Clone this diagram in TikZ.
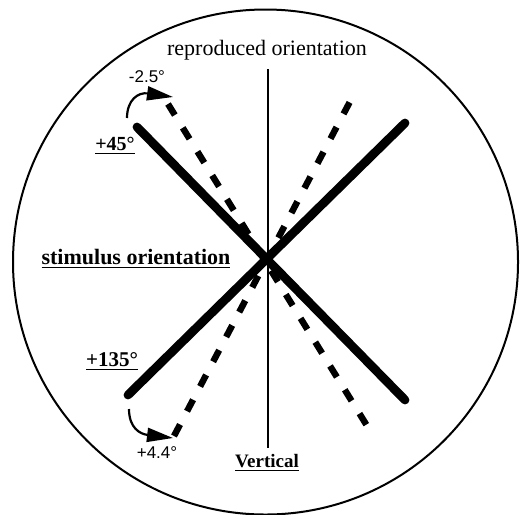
\documentclass[tikz,border=0pt]{standalone}
\usepackage{fontspec}
\setmainfont{Liberation Serif}
\newfontfamily\arialfont{Liberation Sans}
\usetikzlibrary{arrows.meta}

\begin{document}
\begin{tikzpicture}[x=0.5pt, y=-0.5pt,
  stimline/.style={line width=4.4pt, line cap=round},
  reproline/.style={line width=3.2pt, dash pattern=on 6.5pt off 7.5pt},
  turnarrow/.style={line width=1.1pt, -{Triangle[length=13pt, width=7pt]}},
  every node/.style={inner sep=1pt}]
  \useasboundingbox (0,0) rectangle (528,514);
  % frame
  \draw[line width=1pt] (265.5,262) circle[radius=126.25pt];
  % vertical reference
  \coordinate (vtop) at (268,69);
  \coordinate (vbot) at (268,448);
  \draw[line width=0.8pt] (vtop) -- (vbot);
  % stimulus orientations
  \coordinate (s45a) at (137,127);
  \coordinate (s45b) at (405,400);
  \coordinate (s135a) at (128,395);
  \coordinate (s135b) at (405,123);
  \draw[stimline] (s45a) -- (s45b);
  \draw[stimline] (s135a) -- (s135b);
  % reproduced orientations
  \coordinate (r45a) at (168,104);
  \coordinate (r45b) at (369,429);
  \coordinate (r135a) at (174,436);
  \coordinate (r135b) at (354,94);
  \draw[reproline] (r45a) -- (r45b);
  \draw[reproline] (r135a) -- (r135b);
  % errors
  \coordinate (e45a) at (127,118);
  \coordinate (e45b) at (173,97);
  \coordinate (e135a) at (129,409);
  \coordinate (e135b) at (173,438);
  \draw[turnarrow] (e45a) .. controls (127,100) and (138,92) .. (e45b);
  \draw[turnarrow] (e135a) .. controls (129,428) and (140,434) .. (e135b);
  % labels
  \node[font=\fontsize{11}{13}\selectfont] (reprolbl) at (267,50) {reproduced orientation};
  \node[font=\arialfont\fontsize{8.5}{10}\selectfont] (err45) at (147,77) {-2.5\textdegree};
  \node[font=\bfseries\fontsize{10}{12}\selectfont] (lbl45) at (115,146) {\underline{+45\textdegree}};
  \node[font=\bfseries\fontsize{11}{13}\selectfont] (stimlbl) at (136,259) {\underline{stimulus orientation}};
  \node[font=\bfseries\fontsize{10.5}{12}\selectfont] (lbl135) at (112,362) {\underline{+135\textdegree}};
  \node[font=\arialfont\fontsize{8.5}{10}\selectfont] (err135) at (157,453) {+4.4\textdegree};
  \node[font=\bfseries\fontsize{9.5}{11}\selectfont] (vertlbl) at (267,463) {\underline{Vertical}};
\end{tikzpicture}
\end{document}
